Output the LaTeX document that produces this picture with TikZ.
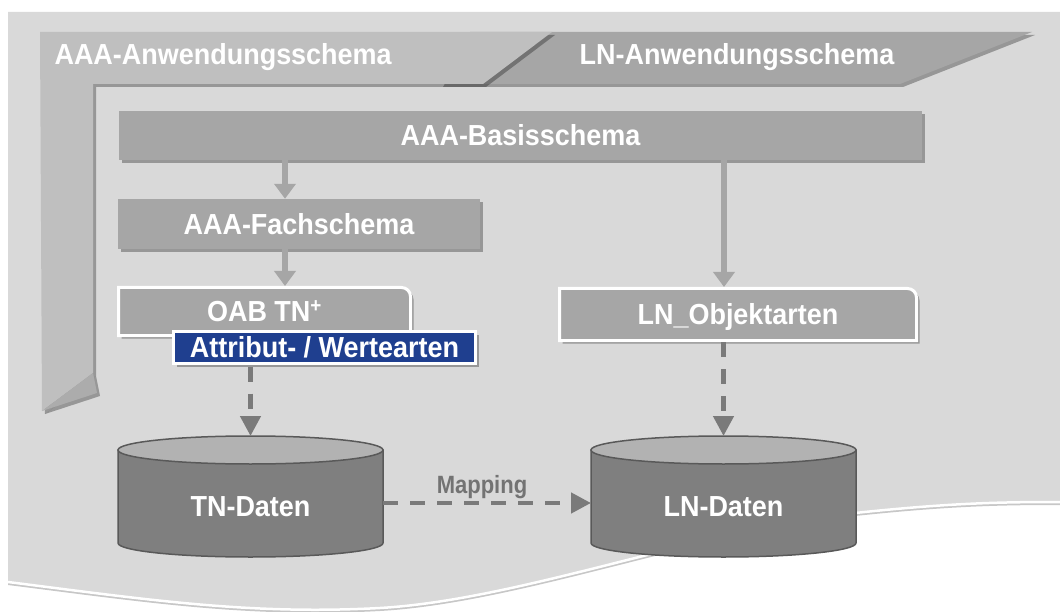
\documentclass[tikz,border=0pt]{standalone}
\usepackage{fontspec}
\setmainfont{Liberation Sans}
\newfontfamily\narrowfont{Liberation Sans}[FakeStretch=0.88]
\newfontfamily\boxfont{Liberation Sans}[FakeStretch=0.93]
\usetikzlibrary{shadows,arrows.meta}
\pgfdeclarelayer{back}
\pgfdeclarelayer{boxlayer}
\pgfsetlayers{back,boxlayer,main}
\definecolor{bgc}{HTML}{D9D9D9}
\definecolor{aaab}{HTML}{BFBFBF}
\definecolor{boxc}{HTML}{A6A6A6}
\definecolor{foldc}{HTML}{ACACAC}
\definecolor{cylb}{HTML}{7F7F7F}
\definecolor{cylt}{HTML}{B2B2B2}
\definecolor{cyle}{HTML}{595959}
\definecolor{blu}{HTML}{1F3F8F}
\definecolor{dsh}{HTML}{7A7A7A}
\definecolor{maptxt}{HTML}{737373}
\begin{document}
\begin{tikzpicture}[x=1pt,y=-1pt,
  shd/.style={drop shadow={shadow xshift=3pt,shadow yshift=-3pt,opacity=0.3,fill=black}},
  bigtxt/.style={font=\boxfont\bfseries\fontsize{29}{34}\selectfont,text height=20.8pt,text depth=0pt},
  schemabox/.style={fill=boxc,text=white,bigtxt,inner sep=0pt,shd},
  placebox/.style={inner sep=0pt,outer sep=0pt,text=white,bigtxt},
  whitebox/.style={fill=boxc,draw=white,line width=3pt,shd},
  solidarr/.style={draw=boxc,line width=6pt,-{Triangle[width=21pt,length=15pt]}},
  dasharr/.style={draw=dsh,line width=4.5pt,dash pattern=on 15pt off 12pt,-{Triangle[width=20pt,length=20pt]}},
  cylbody/.style={fill=cylb,draw=cyle,line width=1.5pt},
  cyltop/.style={fill=cylt,draw=cyle,line width=1.5pt},
]
\useasboundingbox (0,0) rectangle (1060,612);
\begin{pgfonlayer}{back}
\fill[white] (0,0) rectangle (1060,612);
\fill[black,opacity=0.22] (8,16) -- (1060,16) -- (1060,505) .. controls (1000,505) and (950,506) .. (855,516) .. controls (700,533) and (520,603) .. (380,611) .. controls (250,618) and (150,603) .. (8,585) -- cycle;
\fill[bgc] (8,12) -- (1060,12) -- (1060,502) .. controls (1000,502) and (950,503) .. (855,513) .. controls (700,530) and (520,600) .. (380,608) .. controls (250,615) and (150,600) .. (8,582) -- cycle;
\draw[white,line width=2.5pt] (1060,502) .. controls (1000,502) and (950,503) .. (855,513) .. controls (700,530) and (520,600) .. (380,608) .. controls (250,615) and (150,600) .. (8,582);
\fill[boxc,shd] (470,32) -- (1032,32) -- (900,84) -- (440,84) -- cycle;
\fill[aaab,shd] (40,32) -- (552,32) -- (483,84) -- (93,84) -- (93,373) -- (42,411) -- cycle;
\fill[foldc,shd] (93,373) -- (97,393) -- (42,411) -- cycle;
\end{pgfonlayer}

\node[bigtxt,text=white,anchor=base west] (aaaname) at (51,65) {AAA-Anwendungsschema};
\node[bigtxt,text=white,anchor=base] (lnname) at (737,65) {LN-Anwendungsschema};

\node[schemabox,minimum width=803pt,minimum height=49pt] (basis) at (520.5,135.5) {AAA-Basisschema};
\node[schemabox,minimum width=362pt,minimum height=50pt] (fach) at (299,224) {AAA-Fachschema};
\node[placebox,minimum width=292pt,minimum height=48pt] (oab) at (264.5,311.5) {OAB TN\textsuperscript{+}};
\node[placebox,minimum width=357pt,minimum height=52pt] (lno) at (738,314.5) {LN\_Objektarten};
\begin{pgfonlayer}{boxlayer}
\draw[whitebox] (oab.south west) -- (oab.north west) -- ([xshift=-9pt]oab.north east) arc[start angle=90,end angle=0,radius=9pt] -- (oab.south east) -- cycle;
\draw[whitebox] (lno.south west) -- (lno.north west) -- ([xshift=-9pt]lno.north east) arc[start angle=90,end angle=0,radius=9pt] -- (lno.south east) -- cycle;
\end{pgfonlayer}
\node[fill=blu,draw=white,line width=3pt,shd,inner sep=0pt,text=white,bigtxt,minimum width=302pt,minimum height=32pt] (attr) at (324.5,347.5) {Attribut- / Wertearten};

% cylinders
\node[inner sep=0pt,outer sep=0pt,minimum width=265pt,minimum height=121pt] (tn) at (250.5,496.5) {};
\node[inner sep=0pt,outer sep=0pt,minimum width=265pt,minimum height=121pt] (ln) at (723.5,496.5) {};
\draw[cylbody] ([yshift=-14pt]tn.north west) -- ([yshift=14pt]tn.south west) arc[start angle=180,end angle=360,x radius=132.5pt,y radius=14pt] -- ([yshift=-14pt]tn.north east) -- cycle;
\draw[cyltop] ([yshift=-14pt]tn.north) ellipse[x radius=132.5pt,y radius=14pt];
\draw[cylbody] ([yshift=-14pt]ln.north west) -- ([yshift=14pt]ln.south west) arc[start angle=180,end angle=360,x radius=132.5pt,y radius=14pt] -- ([yshift=-14pt]ln.north east) -- cycle;
\draw[cyltop] ([yshift=-14pt]ln.north) ellipse[x radius=132.5pt,y radius=14pt];
\node[bigtxt,text=white] (tntext) at (250.5,506) {TN-Daten};
\node[bigtxt,text=white] (lntext) at (723.5,506) {LN-Daten};

% connectors
\coordinate (cx1) at (285,0);
\coordinate (cx2) at (724,0);
\draw[solidarr] (basis.south -| cx1) -- (fach.north -| cx1);
\draw[solidarr] (fach.south -| cx1) -- ([yshift=1.5pt]oab.north -| cx1);
\draw[solidarr] (basis.south -| cx2) -- ([yshift=1.5pt]lno.north -| cx2);
\draw[dasharr] ([yshift=-1.5pt]attr.south -| tn.north) -- (tn.north);
\draw[dasharr] ([yshift=-1.5pt]lno.south -| ln.north) -- (ln.north);
\draw[dasharr] ([yshift=-6.5pt]tn.east) -- ([yshift=-6.5pt]ln.west);
\node[font=\narrowfont\bfseries\fontsize{25}{30}\selectfont,text=maptxt] (maplabel) at (482,487) {Mapping};
\end{tikzpicture}
\end{document}
